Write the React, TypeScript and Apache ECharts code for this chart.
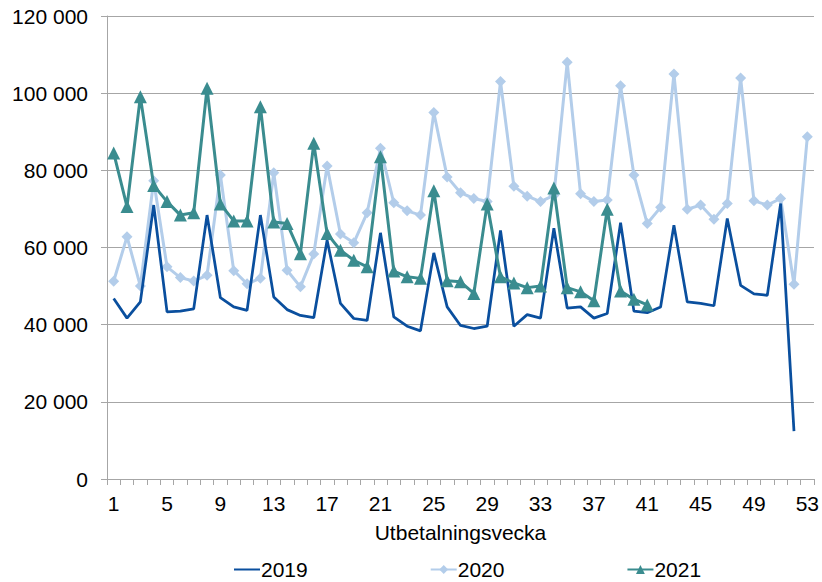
import React, { useEffect, useRef } from "react";
import * as echarts from "echarts";

const weeks: string[] = Array.from({ length: 53 }, (_, i) => String(i + 1));

const y2019: (number | null)[] = [
  46800, 41700, 45900, 71000, 43300, 43500, 44100, 68400, 47000, 44600,
  43700, 68400, 47200, 43900, 42400, 41800, 61900, 45500, 41600, 41100,
  63800, 42000, 39600, 38400, 58600, 44600, 39800, 39000, 39600, 64400,
  39600, 42600, 41700, 65000, 44300, 44600, 41700, 42900, 66400, 43500,
  43100, 44600, 65800, 45900, 45500, 44900, 67500, 50200, 48000, 47600,
  71400, 12400, null,
];

const y2020: (number | null)[] = [
  51250, 62800, 50000, 77300, 55000, 52200, 51300, 52800, 78800, 54000,
  50600, 52000, 79400, 54100, 49800, 58300, 81100, 63500, 61200, 69000,
  85700, 71600, 69500, 68400, 95000, 78300, 74200, 72700, 71900, 103000,
  75900, 73300, 71900, 73500, 108000, 73900, 71900, 72300, 101900, 78800,
  66200, 70400, 105000, 69900, 71000, 67300, 71400, 103900, 72100, 71000,
  72700, 50500, 88700,
];

const y2021: (number | null)[] = [
  84500, 70600, 99100, 76100, 71900, 68400, 69000, 101300, 71300, 66900,
  66900, 96500, 66600, 66200, 58400, 87000, 63600, 59300, 56700, 55000,
  83500, 53900, 52400, 52000, 74700, 51400, 51100, 48100, 71300, 52400,
  50800, 49600, 50000, 75400, 49600, 48500, 46200, 69900, 48700, 46600,
  45100,
];

const seriesNames = ["2019", "2020", "2021"];
const colors = ["#0A4F9E", "#B3CDEA", "#3A8C8F"];

const fmt = (v: number) =>
  String(v).replace(/\B(?=(\d{3})+(?!\d))/g, " ");

export default function App() {
  const ref = useRef<HTMLDivElement>(null);
  useEffect(() => {
    if (!ref.current) return;
    const chart = echarts.init(ref.current, undefined, { renderer: "svg" });
    const font = "'Liberation Sans', Arial, sans-serif";
    const fs = 21;
    chart.setOption({
      animation: false,
      textStyle: { fontFamily: font },
      grid: { left: 107, right: 8, top: 16, bottom: 103, containLabel: false },
      legend: {
        top: 559,
        left: 233,
        padding: 0,
        itemWidth: 26,
        itemHeight: 11,
        itemGap: 122,
        textStyle: { fontSize: fs, color: "#000", fontFamily: font, padding: [0, 0, 0, -4] },
        data: [
          { name: seriesNames[0], itemStyle: { opacity: 0 } },
          { name: seriesNames[1] },
          { name: seriesNames[2] },
        ],
      },
      xAxis: {
        type: "category",
        data: weeks,
        boundaryGap: true,
        name: "Utbetalningsvecka",
        nameLocation: "middle",
        nameGap: 43,
        nameTextStyle: { fontSize: fs, color: "#000", fontFamily: font },
        axisLine: { show: true, lineStyle: { color: "#a6a6a6", width: 1 } },
        axisTick: { show: true, interval: 0, length: 6, lineStyle: { color: "#a6a6a6" } },
        axisLabel: { interval: 3, fontSize: fs, color: "#000", margin: 14, fontFamily: font },
        splitLine: { show: false },
      },
      yAxis: {
        type: "value",
        min: 0,
        max: 120000,
        interval: 20000,
        axisLine: { show: true, lineStyle: { color: "#a6a6a6", width: 1 } },
        axisTick: { show: true, length: 6, lineStyle: { color: "#a6a6a6" } },
        axisLabel: {
          fontSize: fs,
          color: "#000",
          margin: 19,
          fontFamily: font,
          formatter: (v: number) => fmt(v),
        },
        splitLine: { show: true, lineStyle: { color: "#a6a6a6", width: 1 } },
      },
      series: [
        {
          name: seriesNames[0],
          type: "line",
          data: y2019,
          symbol: "none",
          color: colors[0],
          lineStyle: { width: 2.75, color: colors[0] },
          z: 3,
        },
        {
          name: seriesNames[1],
          type: "line",
          data: y2020,
          symbol: "diamond",
          symbolSize: 11,
          showAllSymbol: true,
          color: colors[1],
          itemStyle: { color: colors[1] },
          lineStyle: { width: 3, color: colors[1] },
          z: 2,
        },
        {
          name: seriesNames[2],
          type: "line",
          data: y2021,
          symbol: "triangle",
          symbolSize: 13,
          showAllSymbol: true,
          color: colors[2],
          itemStyle: { color: colors[2] },
          lineStyle: { width: 3, color: colors[2] },
          z: 4,
        },
      ],
    });
    return () => chart.dispose();
  }, []);
  return (
    <div
      ref={ref}
      style={{ position: "fixed", left: 0, top: 0, width: 822, height: 582, background: "#fff" }}
    />
  );
}
